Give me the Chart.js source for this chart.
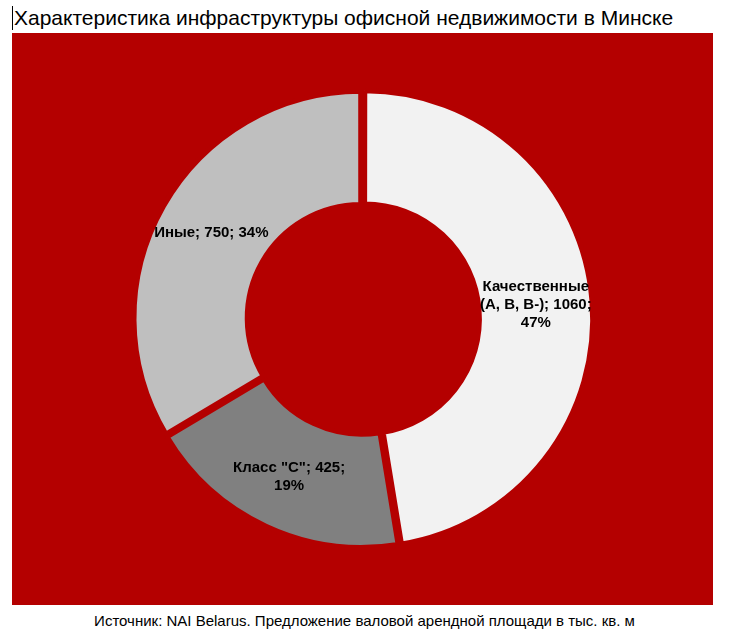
<!DOCTYPE html>
<html><head><meta charset="utf-8">
<script src="https://cdn.jsdelivr.net/npm/chart.js@4"></script>
<style>
body{margin:0;width:729px;height:642px;background:#fff;font-family:"Liberation Sans",Arial,sans-serif;position:relative;overflow:hidden}
#title{position:absolute;left:12px;top:6px;font-size:21px;color:#000;border-left:1px solid #000;padding-left:1px;line-height:24px}
#box{position:absolute;left:12px;top:33px;width:701px;height:572px;background:#b40000}
#foot{position:absolute;left:0;width:729px;top:612px;text-align:center;font-size:15px;color:#000}
</style></head><body>
<div id="title">Характеристика инфраструктуры офисной недвижимости в Минске</div>
<div id="box"><canvas id="c" width="701" height="572"></canvas></div>
<div id="foot">Источник: NAI Belarus. Предложение валовой арендной площади в тыс. кв. м</div>
<script>
const categories = [["Качественные","(A, B, B-); 1060;","47%"],["Класс \"С\"; 425;","19%"],["Иные; 750; 34%"]];
const values = [1060, 425, 750];
const colors = ["#f2f2f2","#808080","#bfbfbf"];
const labelPlugin = {
  id:'lbl',
  afterDatasetsDraw(chart){
    const ctx=chart.ctx; const meta=chart.getDatasetMeta(0);
    ctx.save(); ctx.font='bold 15px "Liberation Sans", Arial'; ctx.fillStyle='#000';
    ctx.textAlign='center'; ctx.textBaseline='middle';
    meta.data.forEach((arc,i)=>{
      const p=arc.tooltipPosition(); const lines=categories[i];
      const lh=18; const y0=p.y-(lines.length-1)*lh/2;
      lines.forEach((t,j)=>ctx.fillText(t,p.x,y0+j*lh));
    });
    ctx.restore();
  }
};
new Chart(document.getElementById('c'),{
  type:'doughnut',
  data:{labels:categories.map(c=>c.join(' ')),datasets:[{data:values,backgroundColor:colors,borderColor:'#b40000',borderWidth:5,offset:8}]},
  options:{responsive:false,animation:false,cutout:'50%',
    layout:{padding:{top:53,bottom:53,left:10,right:10}},
    plugins:{legend:{display:false},tooltip:{enabled:false}}},
  plugins:[labelPlugin]
});
</script>
</body></html>
